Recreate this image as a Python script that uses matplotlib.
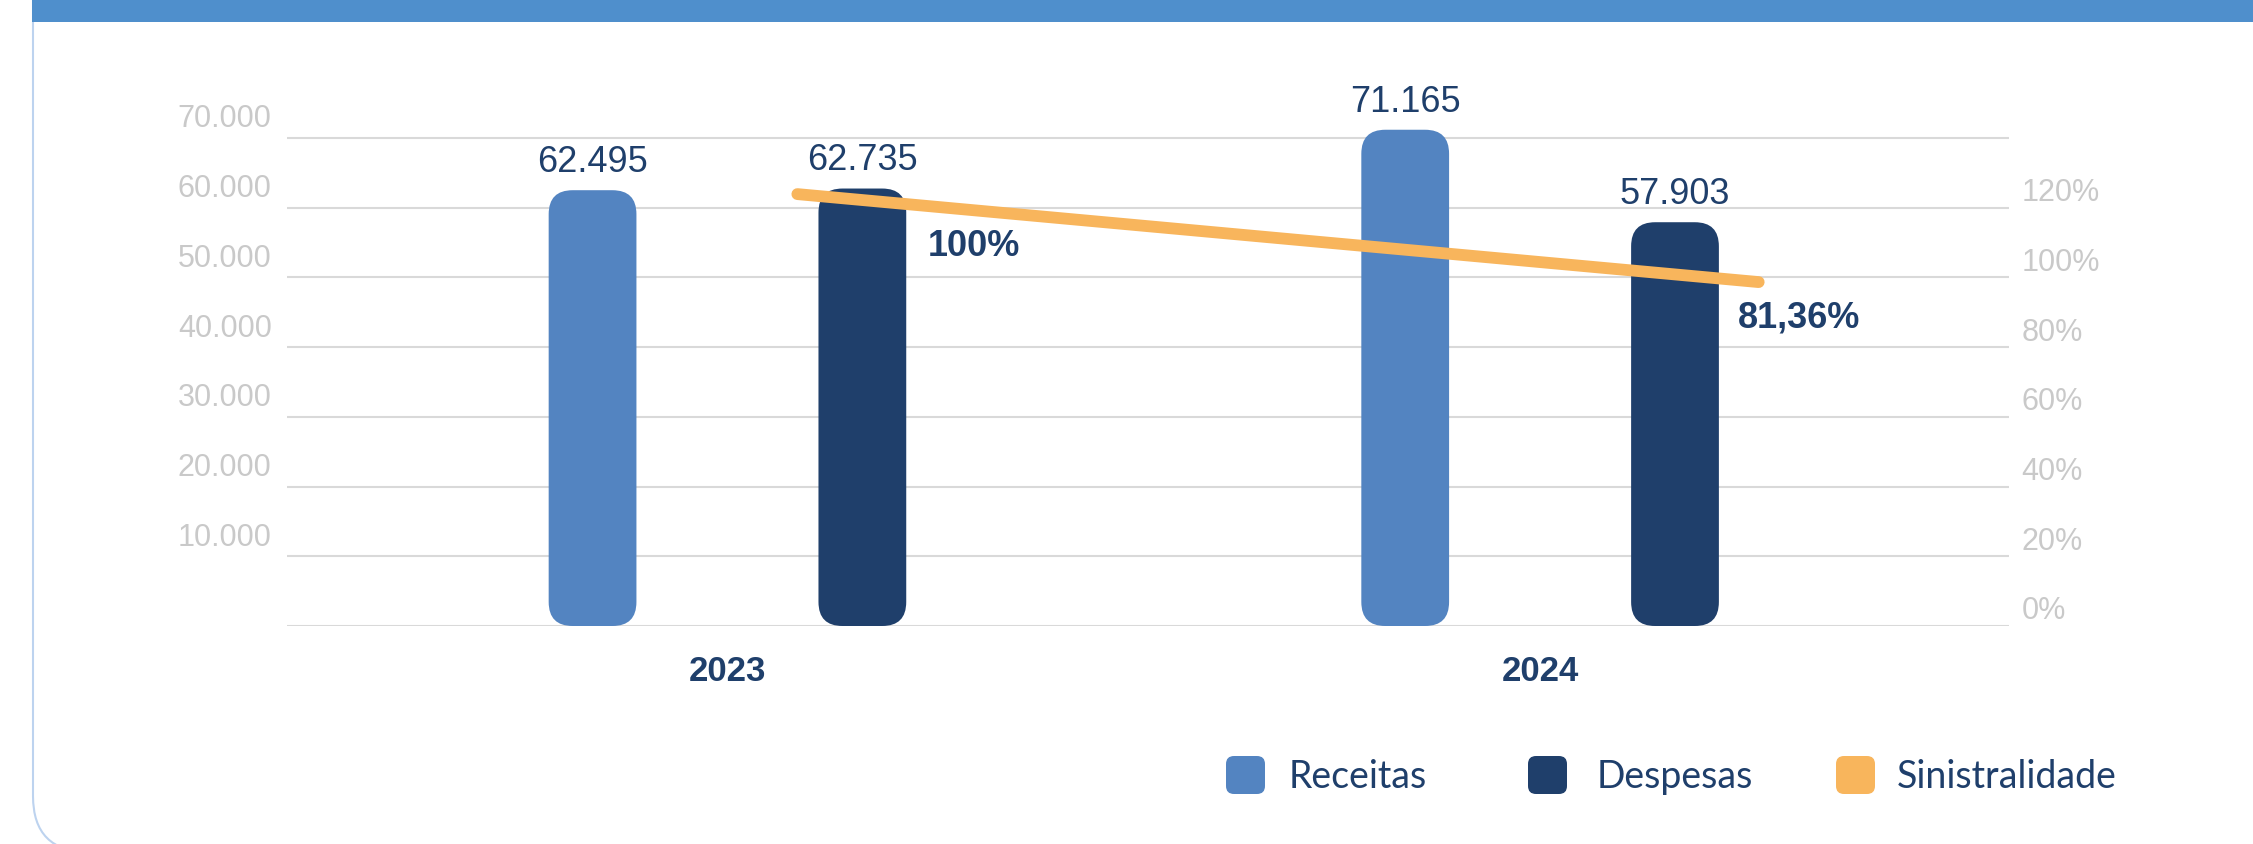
import matplotlib.pyplot as plt
import matplotlib.transforms as mtransforms
from matplotlib.patches import FancyBboxPatch, Rectangle

# dados
anos = ["2023", "2024"]
receitas = [62495, 71165]
despesas = [62735, 57903]
sinistralidade = [100.0, 81.36]
rotulos_sin = ["100%", "81,36%"]
ticks_esq = [0, 10000, 20000, 30000, 40000, 50000, 60000, 70000]
ticks_dir = [0, 20, 40, 60, 80, 100, 120]
series = ["Receitas", "Despesas", "Sinistralidade"]

azul = "#5384C1"
marinho = "#1F3F6B"
laranja = "#F8B55C"
cinza = "#C9C9C9"


def milhar(v):
    return f"{v:,.0f}".replace(",", ".")


W, H = 2253, 845
fig = plt.figure(figsize=(W / 100, H / 100), dpi=100)
px = fig.dpi_scale_trans  # coordenadas em polegadas (px/100)

# cartao de fundo
card = FancyBboxPatch((33 / 100, -8 / 100), 2400 / 100, 1000 / 100,
                      boxstyle="round,pad=0,rounding_size=0.56",
                      transform=px, facecolor="none", edgecolor="#BDD3EF",
                      linewidth=1.5, zorder=-1)
fig.patches.append(card)
fig.patches.append(Rectangle((32 / 100, 822 / 100), 2300 / 100, 23 / 100,
                             transform=px, facecolor="#4F8FCC",
                             edgecolor="none", zorder=1))

ax = fig.add_axes([287 / W, (H - 627) / H, 1722 / W, 523 / H])
ax.set_ylim(0, 75000)
ax.set_xlim(-0.542, 1.577)
ax.patch.set_alpha(0)

xs = list(range(len(anos)))
larg = 0.108
desl = 0.166
b1 = ax.bar([x - desl for x in xs], receitas, width=larg, color=azul)
b2 = ax.bar([x + desl for x in xs], despesas, width=larg, color=marinho)

# cantos arredondados
ux = 2.119 / 1722
uy = 75000 / 523
for r in list(b1.patches) + list(b2.patches):
    r.set_visible(False)
    ax.add_patch(FancyBboxPatch((r.get_x(), r.get_y()), r.get_width(), r.get_height(),
                                boxstyle=f"round,pad=0,rounding_size={24 * ux}",
                                mutation_aspect=uy / ux, facecolor=r.get_facecolor(),
                                edgecolor="none", zorder=2))

for x, v in zip(xs, receitas):
    ax.annotate(milhar(v), (x - desl, v), xytext=(0, 8), textcoords="offset points",
                ha="center", va="bottom", fontsize=26, color=marinho,
                family="Liberation Sans")
for x, v in zip(xs, despesas):
    ax.annotate(milhar(v), (x + desl, v), xytext=(0, 8), textcoords="offset points",
                ha="center", va="bottom", fontsize=26, color=marinho,
                family="Liberation Sans")

# eixo esquerdo
ax.set_yticks(ticks_esq, [""] + [milhar(t) for t in ticks_esq[1:]])
ax.yaxis.grid(True, color="#D9D9D9", linewidth=1.5)
ax.set_axisbelow(True)
ax.tick_params(axis="y", length=0, pad=11, labelsize=22, labelcolor=cinza)
for lab in ax.get_yticklabels():
    lab.set_family("Liberation Sans")
    lab.set_transform(lab.get_transform() + mtransforms.ScaledTranslation(0, 0.23, px))

ax.set_xticks(xs, anos)
ax.tick_params(axis="x", length=0, pad=20, labelsize=25, labelcolor=marinho)
for lab in ax.get_xticklabels():
    lab.set_family("Liberation Sans")
    lab.set_fontweight("bold")

for s in ax.spines.values():
    s.set_visible(False)

# eixo direito
ax2 = ax.twinx()
ax2.set_ylim(0, 150)
ax2.set_yticks(ticks_dir, [f"{t}%" for t in ticks_dir])
ax2.tick_params(axis="y", length=0, pad=9, labelsize=22, labelcolor=cinza)
for lab in ax2.get_yticklabels():
    lab.set_family("Liberation Sans")
    lab.set_transform(lab.get_transform() + mtransforms.ScaledTranslation(0, 0.19, px))
for s in ax2.spines.values():
    s.set_visible(False)

# linha de sinistralidade
ax3 = ax.twinx()
ax3.set_ylim(8.5, 119.3)
ax3.axis("off")
lx = [xs[0] + 0.086, xs[1] + 0.269]
ax3.plot(lx, sinistralidade, color=laranja, linewidth=8.5, solid_capstyle="round", zorder=3)
offs = [(127, -37), (29, -25)]
for x, v, t, o in zip(lx, sinistralidade, rotulos_sin, offs):
    ax3.annotate(t, (x, v), xytext=o, textcoords="offset points", ha="center",
                 va="center", fontsize=26, fontweight="bold", color=marinho,
                 family="Liberation Sans")

# legenda
cores = [azul, marinho, laranja]
quad_x = [1226, 1528, 1836]
txt_x = [1289, 1597, 1897]
for nome, c, qx, tx in zip(series, cores, quad_x, txt_x):
    fig.patches.append(FancyBboxPatch((qx / 100, (H - 795) / 100), 0.39, 0.38,
                                      boxstyle="round,pad=0,rounding_size=0.08",
                                      transform=px, facecolor=c, edgecolor="none",
                                      zorder=2))
    fig.text(tx / 100, (H - 777) / 100, nome, transform=px, ha="left", va="center",
             fontsize=27, color=marinho, family="Lato")

fig.savefig("out.png", dpi=100)
